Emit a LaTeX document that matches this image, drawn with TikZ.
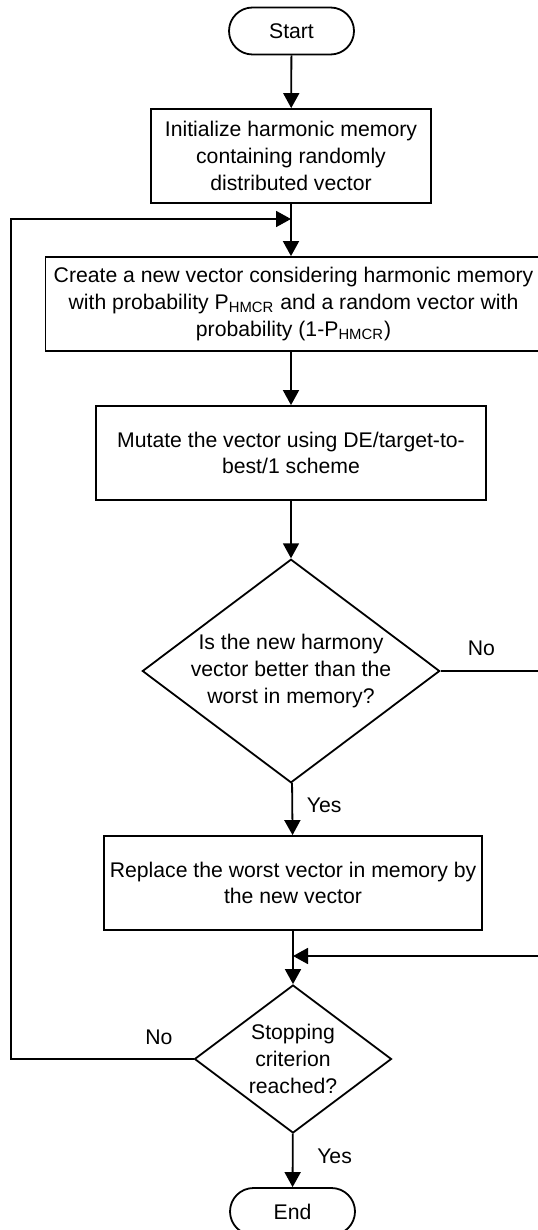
\documentclass[tikz,border=0pt]{standalone}
\usepackage{fontspec}
\setmainfont{Liberation Sans}
\usetikzlibrary{arrows.meta,shapes.geometric}

\tikzset{
  box/.style={draw, rectangle, minimum height=47pt, inner sep=0pt, align=center},
  decision/.style={draw, diamond, aspect=1.33, inner sep=0pt, align=center},
  terminal/.style={draw, rectangle, rounded corners=11.75pt, minimum width=62.5pt,
    minimum height=23.5pt, inner sep=0pt},
  flow/.style={-{Triangle[length=7.5pt,width=8pt]}}
}

\begin{document}
\begin{tikzpicture}[x=0.5pt, y=-0.5pt, line width=0.9pt,
  font=\fontsize{10.6}{13.3}\selectfont]
\useasboundingbox (0,0) rectangle (537,1230);

\node[terminal] (n1) at (291.5,31) {Start};
\node[box, minimum width=140pt] (n2) at (291,156)
  {Initialize harmonic memory\\containing randomly\\distributed vector};
\node[box, minimum width=248pt] (n3) at (293.5,304)
  {Create a new vector considering harmonic memory\\
   with probability P\textsubscript{HMCR} and a random vector with\\
   probability (1-P\textsubscript{HMCR})};
\node[box, minimum width=195pt] (n4) at (291,453)
  {Mutate the vector using DE/target-to-\\best/1 scheme};
\node[decision, minimum width=147.5pt, minimum height=111pt] (n5) at (291,671)
  {Is the new harmony\\vector better than the\\worst in memory?};
\node[box, minimum width=189pt] (n6) at (293,883)
  {Replace the worst vector in memory by\\the new vector};
\node[decision, minimum width=98.5pt, minimum height=74pt] (n7) at (293,1059)
  {Stopping\\criterion\\reached?};
\node[terminal] (n8) at (292.5,1211.5) {End};

% merge points and bends
\coordinate (m1) at (291,219);
\coordinate (m2) at (293,956);
\coordinate (c1) at (548,671);
\coordinate (c3) at (11,1059);

\foreach \i/\j in {1/2, 4/5, 6/7}
{
	\draw[flow] (n\i) -- (n\j);
};
\draw[flow] (n2) -- (n2 |- n3.north);
\draw[flow] (n4 |- n3.south) -- (n4);

\draw[flow] (n5) -- node[right=3.5pt, pos=0.43] {Yes} (n6);
\draw[flow] (n7) -- node[right=8.5pt, pos=0.42] {Yes} (n8);
\draw[flow] (n5.east) -- node[above=4pt, pos=0.38] {No} (c1) |- (m2);
\draw[flow] (n7.west) -- node[above=3.5pt, pos=0.19] {No} (c3) |- (m1);
\end{tikzpicture}
\end{document}
